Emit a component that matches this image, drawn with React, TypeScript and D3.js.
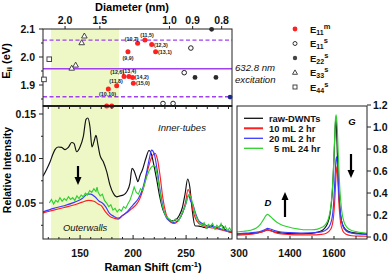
import React from "react";
import * as d3 from "d3";

const FONT = "'Liberation Sans', Arial, Helvetica, sans-serif";

// ---------- data ----------
// RBM frequency <-> diameter relation used for the top axis: w = A/d + B
const kataA = 197;
const kataB = 37.3;

const diameterTicks = [2.0, 1.5, 1.0, 0.9, 0.8];
const energyTicks = [1.9, 2.0, 2.1];
const energyMinor = [1.85, 1.95, 2.05];
const ramanTicks = [150, 200, 250, 300];
const rbmYTicks = [0.05, 0.1, 0.15];
const gTicks = [1400, 1600];
const gYTicks = [0, 0.2, 0.4, 0.6, 0.8, 1.0, 1.2];
const gYLabels = ["0.0", "0.2", "0.4", "0.6", "0.8", "1.0", "1.2"];

const laserEnergy = 1.958;
const windowEnergies = [1.858, 2.06];
const outerwallBand = [122.5, 186.7];

// Kataura points: diameter (nm), transition energy (eV)
const e11m = [
  { d: 1.248, e: 2.019, label: "(9,9)" },
  { d: 1.18, e: 2.049, label: "(10,7)" },
  { d: 1.133, e: 2.061, label: "(11,5)" },
  { d: 1.093, e: 2.045, label: "(12,3)" },
  { d: 1.071, e: 2.019, label: "(13,1)" },
  { d: 1.278, e: 1.93, label: "(12,6)" },
  { d: 1.241, e: 1.93, label: "(13,4)" },
  { d: 1.214, e: 1.927, label: "(14,2)" },
  { d: 1.338, e: 1.897, label: "(11,8)" },
  { d: 1.209, e: 1.906, label: "(15,0)" },
  { d: 1.414, e: 1.886, label: "(10,10)" },
  { d: 1.43, e: 1.825, label: "" },
  { d: 1.382, e: 1.825, label: "" },
];
const e11s = [
  { d: 0.907, e: 2.032 },
  { d: 0.934, e: 1.944 },
  { d: 1.032, e: 1.834 },
  { d: 0.983, e: 1.834 },
];
const e22s = [
  { d: 0.891, e: 1.927 },
  { d: 0.818, e: 1.927 },
  { d: 0.832, e: 2.099 },
];
const edgePoint = [{ d: 0.775, e: 1.857 }];
const e33s = [
  { d: 1.688, e: 2.075 },
  { d: 1.725, e: 2.051 },
  { d: 1.816, e: 1.971 },
  { d: 1.88, e: 1.96 },
];
const e44s = [
  { d: 2.356, e: 1.992 },
  { d: 2.506, e: 1.92 },
];

// RBM spectra: [Raman shift cm-1, relative intensity]
const rbmRaw = [
  [115, 0.08], [118.5, 0.088], [121.6, 0.096], [124, 0.104], [126.3, 0.11], [129.4, 0.113],
  [132.6, 0.1125], [135.8, 0.11], [138.9, 0.1125], [142.1, 0.118], [144.2, 0.117],
  [146.8, 0.1076], [149.9, 0.113], [153, 0.1245], [155.6, 0.144], [157.2, 0.1455],
  [159.3, 0.1357], [161.2, 0.113], [163.1, 0.119], [165, 0.126], [166.9, 0.115],
  [168.8, 0.1035], [171.9, 0.0964], [175.1, 0.0852], [178.2, 0.0702], [181.3, 0.061],
  [184.5, 0.057], [187.6, 0.058], [190.7, 0.059], [194, 0.0627], [197, 0.072], [199, 0.089],
  [201, 0.086], [203, 0.079], [204.5, 0.074], [206.5, 0.081], [209, 0.088], [212, 0.1],
  [215, 0.109], [217.5, 0.104], [220, 0.09], [222.3, 0.076], [225, 0.058], [228, 0.043],
  [232, 0.034], [236.5, 0.03], [240, 0.031], [243.5, 0.036], [246.5, 0.045], [249, 0.06],
  [251.5, 0.077], [253.5, 0.068], [255.5, 0.045], [258.4, 0.0245], [262, 0.024],
  [266, 0.023], [270, 0.022], [274.2, 0.025], [278, 0.021], [283.6, 0.025], [287, 0.02],
  [293, 0.0167],
];
const rbmRed = [
  [115, 0.039], [125, 0.042], [135, 0.045], [145, 0.048], [152, 0.051], [158, 0.053],
  [163, 0.052], [167, 0.049], [170, 0.047], [174, 0.04], [178, 0.035], [182, 0.033],
  [186, 0.032], [190, 0.036], [194, 0.039], [198, 0.043], [202, 0.047], [206, 0.054],
  [210, 0.068], [214, 0.088], [217, 0.1], [220.7, 0.1058], [223, 0.099], [225.5, 0.08],
  [228, 0.056], [231, 0.038], [235, 0.029], [239, 0.027], [243, 0.031], [247, 0.04],
  [249.5, 0.051], [251.8, 0.065], [253.8, 0.06], [256.5, 0.042], [260, 0.03], [265, 0.025],
  [270, 0.023], [275, 0.022], [280, 0.021], [286, 0.019], [293, 0.017],
];
const rbmBlue = [
  [115, 0.04], [125, 0.044], [135, 0.047], [145, 0.051], [152, 0.055], [157, 0.06],
  [160, 0.06], [164, 0.057], [168, 0.052], [171, 0.05], [174, 0.046], [178, 0.038],
  [182, 0.035], [186, 0.033], [190, 0.036], [195, 0.041], [200, 0.048], [205, 0.055],
  [209, 0.066], [213, 0.086], [215.5, 0.101], [217.5, 0.1095], [220, 0.105], [223, 0.085],
  [226, 0.06], [229, 0.041], [233, 0.031], [238, 0.028], [243, 0.031], [247, 0.04],
  [250, 0.05], [252.3, 0.059], [254.3, 0.052], [256.3, 0.049], [258.5, 0.04], [262, 0.03],
  [267, 0.026], [272, 0.024], [278, 0.023], [285, 0.02], [293, 0.018],
];
const rbmGreen = [
  [121, 0.05], [123, 0.054], [125, 0.049], [127, 0.053], [129, 0.051], [131, 0.056],
  [133, 0.052], [135, 0.055], [137, 0.053], [139, 0.057], [141, 0.054], [143, 0.056],
  [145, 0.053], [147, 0.058], [149, 0.055], [151, 0.059], [153, 0.057], [155, 0.061],
  [157, 0.059], [159, 0.064], [161, 0.062], [163, 0.066], [165, 0.063], [166, 0.068],
  [167, 0.062], [169, 0.058], [171, 0.06], [173, 0.053], [175, 0.05], [177, 0.046],
  [179, 0.048], [181, 0.042], [183, 0.044], [185, 0.04], [187, 0.043], [189, 0.041],
  [191, 0.046], [193, 0.044], [195, 0.049], [197, 0.053], [199, 0.06], [201, 0.068],
  [203, 0.062], [205, 0.06], [207, 0.066], [209, 0.064], [211, 0.072], [213, 0.08],
  [215, 0.086], [217, 0.09], [219, 0.092], [221, 0.091], [223, 0.08], [225, 0.065],
  [227, 0.05], [229, 0.041], [231, 0.035], [234, 0.032], [237, 0.029], [240, 0.032],
  [243, 0.03], [246, 0.038], [249, 0.046], [251, 0.055], [253, 0.06], [255, 0.055],
  [257, 0.045], [259, 0.036], [261, 0.031], [263, 0.027], [265, 0.025], [267, 0.028],
  [269, 0.022], [271, 0.026], [273, 0.024], [275, 0.027], [277, 0.021], [279, 0.025],
  [281, 0.022], [283, 0.027], [285, 0.02], [287, 0.024], [289, 0.019], [291, 0.022],
  [293, 0.018],
];

// D/G band spectra: [Raman shift cm-1, relative intensity]
const gRaw = [
  [1159, 0.026], [1190, 0.028], [1220, 0.031], [1250, 0.037], [1270, 0.046], [1285, 0.057],
  [1297, 0.065], [1308, 0.062], [1320, 0.053], [1340, 0.042], [1370, 0.035], [1400, 0.031],
  [1440, 0.03], [1480, 0.032], [1510, 0.038], [1535, 0.05], [1555, 0.075], [1570, 0.12],
  [1582, 0.21], [1592, 0.4], [1600, 0.72], [1605, 0.98], [1608, 1.08], [1611, 1.0],
  [1616, 0.7], [1622, 0.4], [1630, 0.2], [1640, 0.11], [1655, 0.065], [1675, 0.045],
  [1700, 0.036], [1730, 0.03], [1750, 0.028],
];
const gRed = [
  [1159, 0.016], [1200, 0.022], [1240, 0.03], [1270, 0.045], [1288, 0.058], [1298, 0.064],
  [1310, 0.058], [1330, 0.042], [1360, 0.028], [1400, 0.022], [1450, 0.019], [1500, 0.019],
  [1540, 0.024], [1565, 0.035], [1585, 0.07], [1597, 0.17], [1604, 0.35], [1609, 0.55],
  [1613, 0.64], [1617, 0.55], [1622, 0.32], [1630, 0.13], [1640, 0.055], [1655, 0.025],
  [1680, 0.012], [1720, 0.008], [1750, 0.007],
];
const gBlue = [
  [1159, 0.03], [1200, 0.035], [1240, 0.042], [1270, 0.055], [1288, 0.07], [1298, 0.079],
  [1310, 0.073], [1330, 0.058], [1360, 0.046], [1400, 0.04], [1450, 0.037], [1500, 0.038],
  [1530, 0.043], [1555, 0.055], [1575, 0.085], [1590, 0.16], [1598, 0.3], [1604, 0.52],
  [1609, 0.7], [1612, 0.73], [1616, 0.64], [1622, 0.4], [1630, 0.2], [1640, 0.1],
  [1655, 0.055], [1680, 0.035], [1710, 0.028], [1750, 0.024],
];
const gGreen = [
  [1159, 0.046], [1190, 0.052], [1220, 0.062], [1245, 0.08], [1265, 0.115], [1280, 0.16],
  [1292, 0.198], [1298, 0.206], [1306, 0.196], [1320, 0.168], [1340, 0.135], [1360, 0.112],
  [1385, 0.095], [1410, 0.082], [1440, 0.072], [1470, 0.066], [1500, 0.066], [1525, 0.072],
  [1545, 0.088], [1560, 0.11], [1575, 0.17], [1587, 0.3], [1596, 0.55], [1602, 0.85],
  [1607, 1.08], [1610, 1.11], [1614, 1.02], [1620, 0.72], [1627, 0.42], [1635, 0.24],
  [1645, 0.14], [1660, 0.085], [1680, 0.06], [1700, 0.05], [1725, 0.04], [1750, 0.034],
];

const seriesNames = ["raw-DWNTs", "10 mL 2 hr", "20 mL 2 hr", "5 mL 24 hr"];
const kataLegend = ["m", "s", "s", "s", "s"];
const kataLegendSub = ["11", "11", "22", "33", "44"];

// ---------- layout / style ----------
const COLORS = ["#111111", "#ff1f1f", "#3b3bff", "#2fd02f"];
const PURPLE = "#a040f0";
const YELLOW = "#eef7c6";
// label placement for E11m points: [dx, dy, anchor]
const labelPlace: Record<string, [number, number, string]> = {
  "(9,9)": [0, 8.5, "middle"],
  "(10,7)": [1, -2.6, "end"],
  "(11,5)": [2, -3, "middle"],
  "(12,3)": [2.2, 2.2, "start"],
  "(13,1)": [2.4, 2.2, "start"],
  "(12,6)": [0, -2.2, "end"],
  "(13,4)": [0.5, -3.8, "middle"],
  "(14,2)": [2.2, 1.6, "start"],
  "(11,8)": [-0.7, -2.8, "middle"],
  "(15,0)": [2.6, 2.1, "start"],
  "(10,10)": [-0.8, 7.3, "middle"],
};

export default function App() {
  const xR = d3.scaleLinear().domain([115, 293.3]).range([43, 232]);
  const yE = d3.scaleLinear().domain([1.825, 2.1]).range([106, 29]);
  const yI = d3.scaleLinear().domain([0.0096, 0.159]).range([239, 106]);
  const xG = d3.scaleLinear().domain([1159, 1750]).range([237, 367]);
  const yG = d3.scaleLinear().domain([-0.018, 1.191]).range([239, 106]);
  const xD = (d: number) => xR(kataA / d + kataB);

  const lineR = d3.line<number[]>().x((p) => xR(p[0])).y((p) => yI(p[1])).curve(d3.curveMonotoneX);
  const lineRLin = d3.line<number[]>().x((p) => xR(p[0])).y((p) => yI(p[1]));
  const lineG = d3.line<number[]>().x((p) => xG(p[0])).y((p) => yG(p[1])).curve(d3.curveMonotoneX);

  const rbmSeries = [rbmRaw, rbmRed, rbmBlue, rbmGreen];
  const gSeries = [gRaw, gRed, gBlue, gGreen];

  const minorRaman = d3.range(120, 300, 10);
  const minorG = d3.range(1200, 1750, 100);
  const minorI = d3.range(0.025, 0.159, 0.025);

  const arrow = (x: number, y1: number, y2: number, key: string) => {
    const dir = y2 > y1 ? 1 : -1;
    const hl = 8;
    return (
      <g key={key}>
        <line x1={x} x2={x} y1={y1} y2={y2 - dir * hl + dir} stroke="#000" strokeWidth={2.2} />
        <polygon points={`${x - 3.5},${y2 - dir * hl} ${x + 3.5},${y2 - dir * hl} ${x},${y2}`} fill="#000" />
      </g>
    );
  };

  const tickFont = { fontFamily: FONT, fontWeight: 700, fontSize: 10.5, fill: "#111" } as any;

  return (
    <svg width={392} height={275} style={{ position: "absolute", left: 0, top: 0, background: "#fff" }}>
      <defs>
        <clipPath id="clipL"><rect x={43} y={106} width={189} height={133} /></clipPath>
        <clipPath id="clipG"><rect x={237} y={106} width={130} height={133} /></clipPath>
      </defs>

      {/* outer-wall shaded band */}
      <rect x={xR(outerwallBand[0])} y={29} width={xR(outerwallBand[1]) - xR(outerwallBand[0])} height={210} fill={YELLOW} />

      {/* ---- top Kataura panel ---- */}
      {windowEnergies.map((e, i) => (
        <line key={"w" + i} x1={43} x2={232} y1={yE(e)} y2={yE(e)} stroke={PURPLE} strokeWidth={1.3} strokeDasharray="4,2.5" />
      ))}
      <line x1={43} x2={232} y1={yE(laserEnergy)} y2={yE(laserEnergy)} stroke={PURPLE} strokeWidth={1.4} />

      <rect x={43} y={29} width={189} height={77} fill="none" stroke="#222" strokeWidth={1} />
      {/* diameter axis */}
      {diameterTicks.map((d) => (
        <g key={"dt" + d}>
          <line x1={xD(d)} x2={xD(d)} y1={29} y2={26} stroke="#222" />
          <text x={xD(d)} y={24} textAnchor="middle" {...tickFont}>{d.toFixed(1)}</text>
        </g>
      ))}
      <text x={132} y={11} textAnchor="middle" fontFamily={FONT} fontWeight={700} fontSize={11}>Diameter (nm)</text>
      {/* energy axis */}
      {energyTicks.map((e) => (
        <g key={"et" + e}>
          <line x1={43} x2={39} y1={yE(e)} y2={yE(e)} stroke="#222" />
          <text x={35} y={yE(e) + 3.8} textAnchor="end" {...tickFont}>{e.toFixed(1)}</text>
        </g>
      ))}
      {energyMinor.map((e) => (
        <line key={"em" + e} x1={43} x2={41} y1={yE(e)} y2={yE(e)} stroke="#222" />
      ))}
      <text transform="translate(10,61) rotate(-90)" textAnchor="middle" fontFamily={FONT} fontWeight={700} fontSize={11}>
        E<tspan fontSize={8} dy={2}>ii</tspan><tspan dy={-2}> (eV)</tspan>
      </text>

      {/* points */}
      {e44s.map((p, i) => (
        <rect key={"s" + i} x={xD(p.d) - 2.3} y={yE(p.e) - 2.3} width={4.6} height={4.6} fill="#fff" stroke="#333" strokeWidth={0.9} />
      ))}
      {e33s.map((p, i) => {
        const x = xD(p.d), y = yE(p.e);
        return <polygon key={"t" + i} points={`${x},${y - 3} ${x - 2.8},${y + 2} ${x + 2.8},${y + 2}`} fill="#fff" stroke="#333" strokeWidth={0.9} />;
      })}
      {e11s.map((p, i) => (
        <circle key={"o" + i} cx={xD(p.d)} cy={yE(p.e)} r={2.3} fill="#fff" stroke="#222" strokeWidth={1} />
      ))}
      {e22s.map((p, i) => (
        <circle key={"f" + i} cx={xD(p.d)} cy={yE(p.e)} r={2.4} fill="#2a2a2a" />
      ))}
      {edgePoint.map((p, i) => (
        <circle key={"b" + i} cx={xD(p.d)} cy={yE(p.e)} r={2.4} fill="#1b2a8a" />
      ))}
      {e11m.map((p, i) => (
        <circle key={"m" + i} cx={xD(p.d)} cy={yE(p.e)} r={2.5} fill="#ff2020" />
      ))}
      {e11m.filter((p) => p.label).map((p) => {
        const pl = labelPlace[p.label];
        return (
          <text key={"l" + p.label} x={xD(p.d) + pl[0]} y={yE(p.e) + pl[1]} textAnchor={pl[2] as any}
            fontFamily={FONT} fontWeight={700} fontSize={5.3} fill="#222">{p.label}</text>
        );
      })}

      {/* excitation text */}
      <text x={235} y={71} fontFamily={FONT} fontStyle="italic" fontSize={9.6} fill="#111">632.8 nm</text>
      <text x={235} y={82.5} fontFamily={FONT} fontStyle="italic" fontSize={9.6} fill="#111">excitation</text>

      {/* Kataura legend */}
      {kataLegend.map((sup, i) => {
        const y = 29 + i * 14.5;
        let marker;
        if (i === 0) marker = <circle cx={295} cy={y} r={2.4} fill="#ff2020" />;
        else if (i === 1) marker = <circle cx={295} cy={y} r={2} fill="#fff" stroke="#333" strokeWidth={1} />;
        else if (i === 2) marker = <circle cx={295} cy={y} r={2.2} fill="#444" />;
        else if (i === 3) marker = <polygon points={`295,${y - 2.6} ${292.5},${y + 1.8} ${297.5},${y + 1.8}`} fill="#fff" stroke="#333" strokeWidth={0.9} />;
        else marker = <rect x={293} y={y - 2} width={4} height={4} fill="#fff" stroke="#333" strokeWidth={0.9} />;
        return (
          <g key={"kl" + i}>
            {marker}
            <text x={310} y={y + 3.5} fontFamily={FONT} fontWeight={700} fontSize={9.5} fill="#111">
              E<tspan fontSize={7} dy={2}>{kataLegendSub[i]}</tspan><tspan fontSize={7.5} dy={-6}>{sup}</tspan>
            </text>
          </g>
        );
      })}

      {/* ---- lower-left RBM panel ---- */}
      <g clipPath="url(#clipL)">
        {rbmSeries.map((s, i) => (
          <path key={"r" + i} d={(i === 3 ? lineRLin : lineR)(s) || ""} fill="none" stroke={COLORS[i]} strokeWidth={1.15} />
        ))}
      </g>
      <rect x={43} y={106} width={189} height={133} fill="none" stroke="#222" strokeWidth={1} />
      <line x1={43} x2={232} y1={106} y2={106} stroke="#111" strokeWidth={1.4} />
      {minorRaman.map((v) => (
        <g key={"mr" + v}>
          <line x1={xR(v)} x2={xR(v)} y1={239} y2={v % 50 === 0 ? 235 : 237} stroke="#222" />
          <line x1={xR(v)} x2={xR(v)} y1={106} y2={109} stroke="#222" />
        </g>
      ))}
      {ramanTicks.map((v) => (
        <text key={"rt" + v} x={xR(v)} y={257} textAnchor="middle" {...tickFont}>{v}</text>
      ))}
      {minorI.map((v, i) => (
        <line key={"mi" + i} x1={43} x2={i % 2 === 1 ? 39 : 41} y1={yI(v)} y2={yI(v)} stroke="#222" />
      ))}
      {rbmYTicks.map((v) => (
        <text key={"it" + v} x={36} y={yI(v) + 3.8} textAnchor="end" {...tickFont}>{v.toFixed(2)}</text>
      ))}
      <text transform="translate(11,170) rotate(-90)" textAnchor="middle" fontFamily={FONT} fontWeight={700} fontSize={10.5}>Relative Intensity</text>
      <text x={153} y={271} textAnchor="middle" fontFamily={FONT} fontWeight={700} fontSize={11}>
        Raman Shift (cm<tspan fontSize={7.5} dy={-4}>-1</tspan><tspan dy={4}>)</tspan>
      </text>
      <text x={158} y={130.5} fontFamily={FONT} fontStyle="italic" fontSize={9.5} fill="#111">Inner-tubes</text>
      <text x={63} y={231} fontFamily={FONT} fontStyle="italic" fontSize={9.4} fill="#111">Outerwalls</text>
      {arrow(78, 166, 185, "a1")}

      {/* ---- right G-band panel ---- */}
      <g clipPath="url(#clipG)">
        {gSeries.map((s, i) => (
          <path key={"g" + i} d={lineG(s) || ""} fill="none" stroke={COLORS[i]} strokeWidth={1.15} />
        ))}
      </g>
      <rect x={237} y={106} width={130} height={133} fill="none" stroke="#222" strokeWidth={1} />
      {minorG.map((v) => (
        <line key={"mg" + v} x1={xG(v)} x2={xG(v)} y1={239} y2={236} stroke="#222" />
      ))}
      {gTicks.map((v) => (
        <text key={"gt" + v} x={xG(v)} y={257} textAnchor="middle" {...tickFont}>{v}</text>
      ))}
      {gYTicks.map((v, i) => (
        <g key={"gy" + i}>
          <line x1={367} x2={371} y1={yG(v)} y2={yG(v)} stroke="#222" />
          <text x={373} y={yG(v) + 3.8} {...tickFont}>{gYLabels[i]}</text>
        </g>
      ))}
      {seriesNames.map((n, i) => (
        <g key={"lg" + i}>
          <line x1={244} x2={263} y1={118.3 + i * 10} y2={118.3 + i * 10} stroke={COLORS[i]} strokeWidth={i === 1 ? 2 : 1.3} />
          <text x={i === 3 ? 274 : 269} y={121.6 + i * 10} fontFamily={FONT} fontWeight={700} fontSize={9.3} fill="#111">{n}</text>
        </g>
      ))}
      <text x={268} y={206} textAnchor="middle" fontFamily={FONT} fontWeight={700} fontStyle="italic" fontSize={9.5}>D</text>
      <text x={352} y={125} textAnchor="middle" fontFamily={FONT} fontWeight={700} fontStyle="italic" fontSize={9.5}>G</text>
      {arrow(285, 217, 192, "a2")}
      {arrow(351, 154, 178, "a3")}
    </svg>
  );
}
